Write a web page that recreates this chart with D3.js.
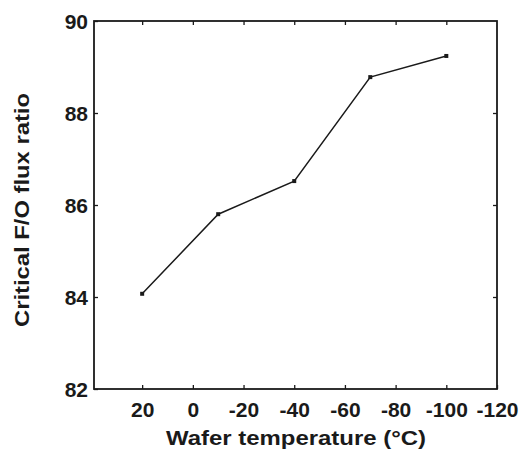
<!DOCTYPE html>
<html>
<head>
<meta charset="utf-8">
<script src="https://cdn.jsdelivr.net/npm/d3@7"></script>
<style>
  html, body { margin: 0; padding: 0; background: #fff; }
  svg { display: block; }
  text { font-family: "Liberation Sans", Arial, Helvetica, sans-serif; font-weight: bold; fill: #1a1a1a; }
</style>
</head>
<body>
<svg id="chart" width="523" height="449"></svg>
<script>
// Wafer temperature (°C) and the critical F/O flux ratio measured at each
const temperatures = [20, -10, -40, -70, -100];
const fluxRatios = [84.07, 85.80, 86.52, 88.78, 89.24];

const xTicks = [20, 0, -20, -40, -60, -80, -100, -120];
const yTicks = [82, 84, 86, 88, 90];

const xTitle = "Wafer temperature (°C)";
const yTitle = "Critical F/O flux ratio";

const svg = d3.select("#chart");
const plot = { left: 94, right: 497, top: 21, bottom: 389 };

const x = d3.scaleLinear().domain([39, -120]).range([plot.left, plot.right]);
const y = d3.scaleLinear().domain([82, 90]).range([plot.bottom, plot.top]);

const ink = "#1a1a1a";
const tickLen = 4;
// plain hyphen for negative numbers
const fmt = d => String(d);

// Inward ticks on all four sides
const axes = [
  d3.axisBottom(x).tickValues(xTicks).tickSizeInner(-tickLen).tickSizeOuter(0).tickFormat(fmt),
  d3.axisTop(x).tickValues(xTicks.slice(0, -1)).tickSizeInner(-tickLen).tickSizeOuter(0).tickFormat(""),
  d3.axisLeft(y).tickValues(yTicks).tickSizeInner(-tickLen).tickSizeOuter(0).tickFormat(fmt),
  d3.axisRight(y).tickValues(yTicks.slice(1, -1)).tickSizeInner(-tickLen).tickSizeOuter(0).tickFormat("")
];
const shifts = [
  `translate(0,${plot.bottom})`,
  `translate(0,${plot.top})`,
  `translate(${plot.left},0)`,
  `translate(${plot.right},0)`
];

axes.forEach((ax, i) => {
  const g = svg.append("g").attr("transform", shifts[i]).call(ax);
  g.select(".domain").remove();
  g.selectAll(".tick line").attr("stroke", ink).attr("stroke-width", 1.3);
  g.selectAll(".tick text").attr("fill", ink).style("font-size", "21px")
    .style("font-family", "'Liberation Sans', Arial, sans-serif").style("font-weight", "bold");
  if (i === 0) g.selectAll(".tick text").attr("y", 13).attr("dy", "0.71em");
  if (i === 2) g.selectAll(".tick text").attr("x", -6).attr("dy", "0.35em");
});

// Plot frame
svg.append("rect")
  .attr("x", plot.left).attr("y", plot.top)
  .attr("width", plot.right - plot.left).attr("height", plot.bottom - plot.top)
  .attr("fill", "none").attr("stroke", ink).attr("stroke-width", 1.8);

// Data line with small square markers
const line = d3.line().x((d, i) => x(temperatures[i])).y(d => y(d));
svg.append("path")
  .datum(fluxRatios)
  .attr("d", line)
  .attr("fill", "none").attr("stroke", ink).attr("stroke-width", 1.5);

svg.append("g").selectAll("rect")
  .data(fluxRatios)
  .join("rect")
  .attr("x", (d, i) => x(temperatures[i]) - 2)
  .attr("y", d => y(d) - 2)
  .attr("width", 4).attr("height", 4)
  .attr("fill", ink);

// Axis titles
svg.append("text")
  .attr("x", 296).attr("y", 445)
  .attr("text-anchor", "middle")
  .style("font-size", "21px")
  .attr("textLength", 260).attr("lengthAdjust", "spacingAndGlyphs")
  .text(xTitle);

svg.append("text")
  .attr("transform", "translate(29,210) rotate(-90)")
  .attr("text-anchor", "middle")
  .style("font-size", "21px")
  .attr("textLength", 234).attr("lengthAdjust", "spacingAndGlyphs")
  .text(yTitle);
</script>
</body>
</html>
